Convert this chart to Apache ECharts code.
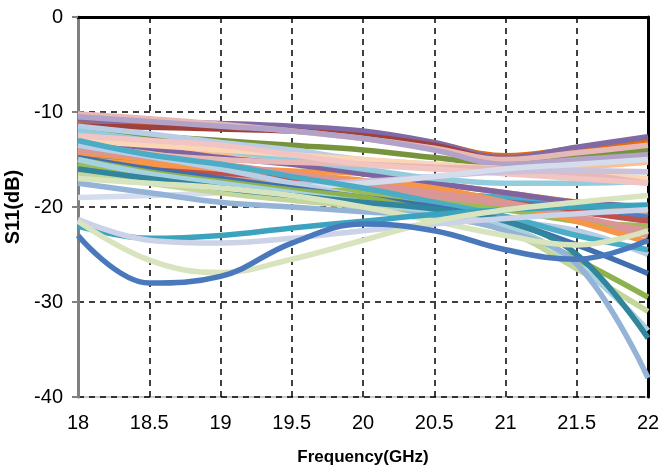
<!DOCTYPE html>
<html>
<head>
<meta charset="utf-8">
<script src="https://cdn.jsdelivr.net/npm/echarts@6/dist/echarts.min.js"></script>
<style>
  html, body { margin: 0; padding: 0; background: #fff; }
  #chart { width: 662px; height: 471px; }
</style>
</head>
<body>
<div id="chart"></div>
<script>
// frequency points (GHz)
const freq = [18, 18.5, 19, 19.5, 20, 20.5, 21, 21.5, 22]

// S11 curves (dB), one array per trace
const sOrange1 = [-11, -11.2, -11.4, -11.8, -12.3, -13.3, -14.6, -13.8, -13]
const sPurple1 = [-10.8, -11, -11.2, -11.5, -12, -13.2, -14.8, -13.7, -12.6]
const sRed1 = [-11.5, -11.6, -11.8, -12, -12.5, -13.5, -15, -14.5, -14]
const sGreen1 = [-12, -12.5, -13, -13.5, -14, -14.8, -15.5, -14.8, -14]
const sPink1 = [-10.2, -10.7, -11.3, -12, -12.8, -13.8, -15, -14.3, -13.5]
const sLilac1 = [-10.5, -11, -11.5, -12, -12.8, -14, -15.5, -15, -14.5]
const sPeach1 = [-13.5, -14, -14.3, -14.8, -15.2, -15.8, -16.2, -15.8, -15.3]
const sSky1 = [-11.5, -12.3, -13.2, -14, -15, -15.5, -16, -16.2, -16.3]
const sAqua1 = [-15, -16, -16.8, -17.5, -18, -18.5, -19, -19.5, -20]
const sBlue1 = [-14.5, -15.5, -16.5, -17.5, -18.3, -19, -19.5, -20, -21]
const sOrange2 = [-14.3, -15, -15.8, -16.2, -16.5, -17.5, -18.5, -19.5, -20.5]
const sRed2 = [-15.5, -16, -16.5, -17, -17.5, -18.5, -19.5, -20.5, -21.5]
const sRose1 = [-16, -16.5, -17, -17.5, -18, -19, -20, -21.5, -23]
const sPurple2 = [-13, -13.8, -14.8, -15.5, -16.5, -17.5, -18.5, -19.5, -20]
const sAqua2 = [-12, -13, -14, -15, -16, -17, -17.5, -17.5, -17.3]
const sOlive1 = [-15.5, -16.8, -17.2, -17.8, -18.5, -19.5, -20.3, -21.5, -22]
const sPeach2 = [-13, -13.5, -14, -14.5, -15, -15.5, -16, -16.5, -17]
const sPink2 = [-14, -14.5, -15, -15.3, -15.5, -15.8, -16, -16.5, -17.5]
const sPink3 = [-12.5, -13, -13.5, -14.5, -15.5, -16, -16.5, -17, -17.5]
const sOrange3 = [-15, -15.5, -16, -16.5, -17.2, -18, -19.5, -21.5, -23.7]
const sRose2 = [-14, -14.8, -15.5, -16.5, -17.5, -18.5, -19.5, -21, -22.5]
const sLav1 = [-17, -17.3, -17.6, -17.6, -17.3, -16.8, -16.3, -16.2, -16.3]
const sPale1 = [-19, -18.8, -18.5, -18, -17.5, -16.8, -16, -15.5, -15]
const sSky2 = [-13.5, -14.7, -16, -17.5, -19, -20.5, -21.5, -22.5, -25]
const sAqua3 = [-13, -14.5, -15.5, -16.8, -18, -19.5, -21, -23, -24.5]
const sBlue2 = [-14.8, -16, -17, -18, -19, -20, -21.5, -24, -27]
const sGreen2 = [-15, -16.3, -17.3, -18.2, -19, -20.5, -22, -25.5, -29.5]
const sLime1 = [-16.5, -17.5, -18.5, -19.3, -20, -21, -22.5, -26.5, -31]
const sSky3 = [-15, -16.5, -17.5, -18.5, -19.5, -20.5, -22, -26, -33]
const sTeal1 = [-16, -17, -18, -18.8, -19.5, -20.2, -21.5, -25, -33.8]
const sPeri1 = [-17.5, -18.5, -19.5, -20, -20.5, -21, -22.5, -26, -38]
const sMint1 = [-17, -17.5, -18, -18.8, -20, -21.5, -23, -24, -22.5]
const sTeal2 = [-22, -23.3, -23, -22.2, -21.5, -20.8, -20.3, -20, -19.8]
const sLav2 = [-21.3, -23.5, -23.8, -23.3, -22.5, -21.8, -21.2, -20.7, -20.3]
const sMint2 = [-21.5, -25.6, -26.9, -25.5, -23.5, -21.5, -20.3, -19.5, -18.8]
const sNavy1 = [-23, -28, -27.3, -23.8, -21.8, -22.5, -24.5, -25.5, -23.5]

const traces = [
  [sOrange1, '#E46C0A'], [sPurple1, '#7F6AA5'], [sRed1, '#A0403C'],
  [sGreen1, '#77933C'], [sPink1, '#E6B9B8'], [sLilac1, '#B3A2C7'],
  [sPeach1, '#FAC090'], [sSky1, '#B9CDE5'], [sAqua1, '#4BACC6'],
  [sBlue1, '#4F81BD'], [sOrange2, '#F79646'], [sRed2, '#C0504D'],
  [sRose1, '#D99694'], [sPurple2, '#8064A2'], [sAqua2, '#93CDDD'],
  [sOlive1, '#9BBB59'], [sPeach2, '#FCD5B5'], [sPink2, '#E6B9B8'],
  [sPink3, '#F2C4C2'], [sOrange3, '#F79646'], [sRose2, '#D99694'],
  [sLav1, '#CCC1DA'], [sPale1, '#D5DCEB'], [sSky2, '#B9CDE5'],
  [sAqua3, '#4BACC6'], [sBlue2, '#3F6FAE'], [sGreen2, '#8DB14C'],
  [sLime1, '#C3D69B'], [sSky3, '#A5D2DE'], [sTeal1, '#31859C'],
  [sPeri1, '#95B3D7'], [sMint1, '#D7E4BD'], [sTeal2, '#3BA3BD'],
  [sLav2, '#CCD3E8'], [sMint2, '#D7E4BD'], [sNavy1, '#4A78BD']
]

let chart = echarts.init(document.getElementById('chart'))

let series = traces.map(function (t, i) {
  return {
    name: 's' + (i + 1),
    type: 'line',
    smooth: 0.4,
    symbol: 'none',
    lineStyle: {width: 5.5, color: t[1]},
    data: freq.map(function (f, j) { return [f, t[0][j]] })
  }
})

let dashed = {show: true, lineStyle: {color: '#000', width: 1.5, type: [6, 5]}}

let option = {
  animation: false,
  grid: {
    left: 78,
    right: 14,
    top: 17,
    bottom: 74,
    containLabel: false,
    outerBoundsMode: 'none',
    show: true,
    borderColor: '#999',
    borderWidth: 1
  },
  xAxis: [
    {
      type: 'value',
      min: 18,
      max: 22,
      interval: 0.5,
      name: 'Frequency(GHz)',
      nameLocation: 'middle',
      nameGap: 52,
      nameTextStyle: {fontFamily: 'Liberation Sans', fontSize: 17, fontWeight: 'bold', color: '#000'},
      axisLine: {show: true, lineStyle: {color: '#000', width: 3}},
      axisTick: {show: false},
      axisLabel: {fontFamily: 'Liberation Sans', fontSize: 20, color: '#000', margin: 16},
      splitLine: dashed
    }
  ],
  yAxis: [
    {
      type: 'value',
      min: -40,
      max: 0,
      interval: 10,
      name: 'S11(dB)',
      nameLocation: 'middle',
      nameGap: 48,
      nameTextStyle: {fontFamily: 'Liberation Sans', fontSize: 20, fontWeight: 'bold', color: '#000'},
      axisLine: {show: true, lineStyle: {color: '#808080', width: 3}},
      axisTick: {show: true, length: 6, lineStyle: {color: '#808080', width: 2}},
      axisLabel: {fontFamily: 'Liberation Sans', fontSize: 20, color: '#000', margin: 15},
      splitLine: dashed
    },
    {
      type: 'value',
      position: 'right',
      min: -40,
      max: 0,
      interval: 10,
      axisLine: {show: true, lineStyle: {color: '#000', width: 3}},
      axisTick: {show: false},
      axisLabel: {show: false},
      splitLine: {show: false}
    }
  ],
  series: series
}
chart.setOption(option, true)
</script>
</body>
</html>
